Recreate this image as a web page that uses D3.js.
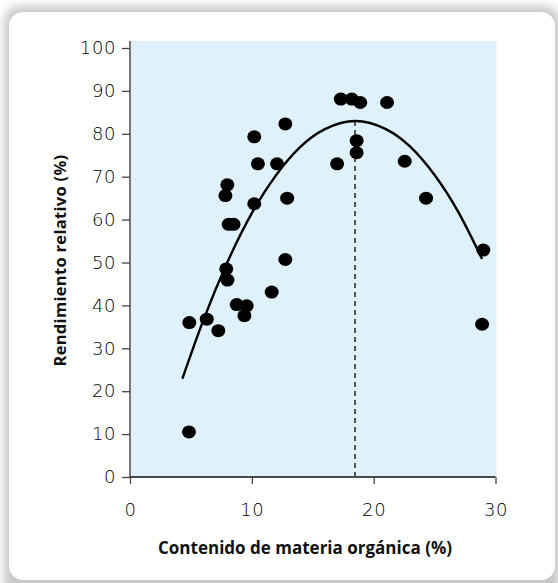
<!DOCTYPE html>
<html>
<head>
<meta charset="utf-8">
<script src="https://cdn.jsdelivr.net/npm/d3@7"></script>
<style>
  html, body { margin: 0; padding: 0; background: #fff; }
  svg { display: block; }
  .tick text { font-family: "DejaVu Sans", sans-serif; font-weight: 200; font-size: 18px; letter-spacing: 0.6px; fill: #000; }
  .axis-title { font-family: "Open Sans", Lato, sans-serif; font-weight: 700; font-size: 17px; fill: #111; }
</style>
</head>
<body>
<div id="chart"></div>
<script>
// organic matter content (%) and relative yield (%)
const organicMatter = [4.87, 4.84, 6.3, 7.25, 7.83, 7.99, 7.9, 8.0, 8.1, 8.5, 8.76, 9.58, 9.39,
  10.2, 10.5, 10.2, 12.07, 12.75, 12.9, 11.63, 12.75, 17.3, 18.2, 18.9, 21.1,
  18.6, 18.6, 17.0, 22.55, 24.3, 29.0, 28.9];
const relativeYield = [36.0, 10.5, 36.8, 34.1, 65.6, 68.1, 48.5, 45.9, 58.9, 58.9, 40.2, 39.9, 37.6,
  79.3, 73.0, 63.7, 73.0, 82.3, 65.0, 43.1, 50.7, 88.1, 88.1, 87.3, 87.3,
  78.4, 75.6, 73.0, 73.6, 65.0, 52.9, 35.6];

// fitted curve as drawn
const curveX = [4.3, 6, 8, 10, 12, 14, 16, 18.5, 21, 23, 25, 27, 28.9];
const curveY = [22.9, 36.4, 50.1, 61.5, 70.4, 77.0, 81.1, 83.0, 81.1, 77.0, 70.4, 61.5, 50.8];

// optimum marker
const optimumX = 18.47;
const optimumY = 83.0;

const xTicks = [0, 10, 20, 30];
const yTicks = [0, 10, 20, 30, 40, 50, 60, 70, 80, 90, 100];

const W = 558, H = 583;
const margin = {top: 48, right: 62, bottom: 106, left: 130};
const width = 495.5 - margin.left;
const height = 477 - margin.top;

const svg = d3.select('#chart').append('svg')
  .attr('width', W)
  .attr('height', H);

// card with soft shadow
const defs = svg.append('defs');
const blur = defs.append('filter').attr('id', 'shadow')
  .attr('x', '-10%').attr('y', '-10%').attr('width', '120%').attr('height', '120%');
blur.append('feGaussianBlur').attr('stdDeviation', 5);

svg.append('rect')
  .attr('x', 4).attr('y', 6)
  .attr('width', 556).attr('height', 600)
  .attr('rx', 16)
  .style('fill', '#c8c8c8')
  .attr('filter', 'url(#shadow)');

svg.append('rect')
  .attr('x', 9).attr('y', 12)
  .attr('width', 546).attr('height', 568)
  .attr('rx', 14)
  .style('fill', '#fff');

const xScale = d3.scaleLinear().domain([0, 30]).range([0, width]);
const yScale = d3.scaleLinear().domain([0, 100]).range([height, 0]);

const chart = svg.append('g')
  .attr('transform', `translate(${margin.left}, ${margin.top})`);

// plot background
chart.append('rect')
  .attr('x', 0)
  .attr('y', -7)
  .attr('width', width + 1)
  .attr('height', height + 7)
  .style('fill', '#dff1fb');

// y axis
const yAxis = chart.append('g')
  .attr('class', 'axis axis-y')
  .call(d3.axisLeft(yScale).tickValues(yTicks).tickSize(8).tickPadding(6));
yAxis.select('.domain').attr('d', `M0,${height}V-7`).style('stroke', '#777').style('stroke-width', 2);
yAxis.selectAll('.tick line').style('stroke', '#444').style('stroke-width', 1.3);

// x axis
const xAxis = chart.append('g')
  .attr('class', 'axis axis-x')
  .attr('transform', `translate(0, ${height})`)
  .call(d3.axisBottom(xScale).tickValues(xTicks).tickSize(7).tickPadding(19));
xAxis.select('.domain').attr('d', `M0,0H${width}`).style('stroke', '#111').style('stroke-width', 1.5);
xAxis.selectAll('.tick line').style('stroke', '#444').style('stroke-width', 1.3);

// dashed line to optimum
chart.append('line')
  .attr('x1', xScale(optimumX)).attr('x2', xScale(optimumX))
  .attr('y1', yScale(optimumY)).attr('y2', height)
  .style('stroke', '#555')
  .style('stroke-width', 2)
  .style('stroke-dasharray', '5,4');

// fitted curve
const line = d3.line()
  .x((d, i) => xScale(curveX[i]))
  .y(d => yScale(d))
  .curve(d3.curveNatural);

chart.append('path')
  .datum(curveY)
  .attr('d', line)
  .style('fill', 'none')
  .style('stroke', '#000')
  .style('stroke-width', 2.4);

// data points
chart.selectAll('.point')
  .data(relativeYield)
  .enter().append('ellipse')
  .attr('class', 'point')
  .attr('cx', (d, i) => xScale(organicMatter[i]))
  .attr('cy', d => yScale(d))
  .attr('rx', 7)
  .attr('ry', 6.5)
  .style('fill', '#000');

// axis titles
svg.append('text')
  .attr('class', 'axis-title')
  .attr('x', 305)
  .attr('y', 554)
  .attr('text-anchor', 'middle')
  .text('Contenido de materia orgánica (%)');

svg.append('text')
  .attr('class', 'axis-title')
  .attr('transform', `translate(66, ${margin.top + height / 2 - 2}) rotate(-90)`)
  .attr('text-anchor', 'middle')
  .style('font-size', '16.5px')
  .style('letter-spacing', '0.3px')
  .text('Rendimiento relativo (%)');
</script>
</body>
</html>
